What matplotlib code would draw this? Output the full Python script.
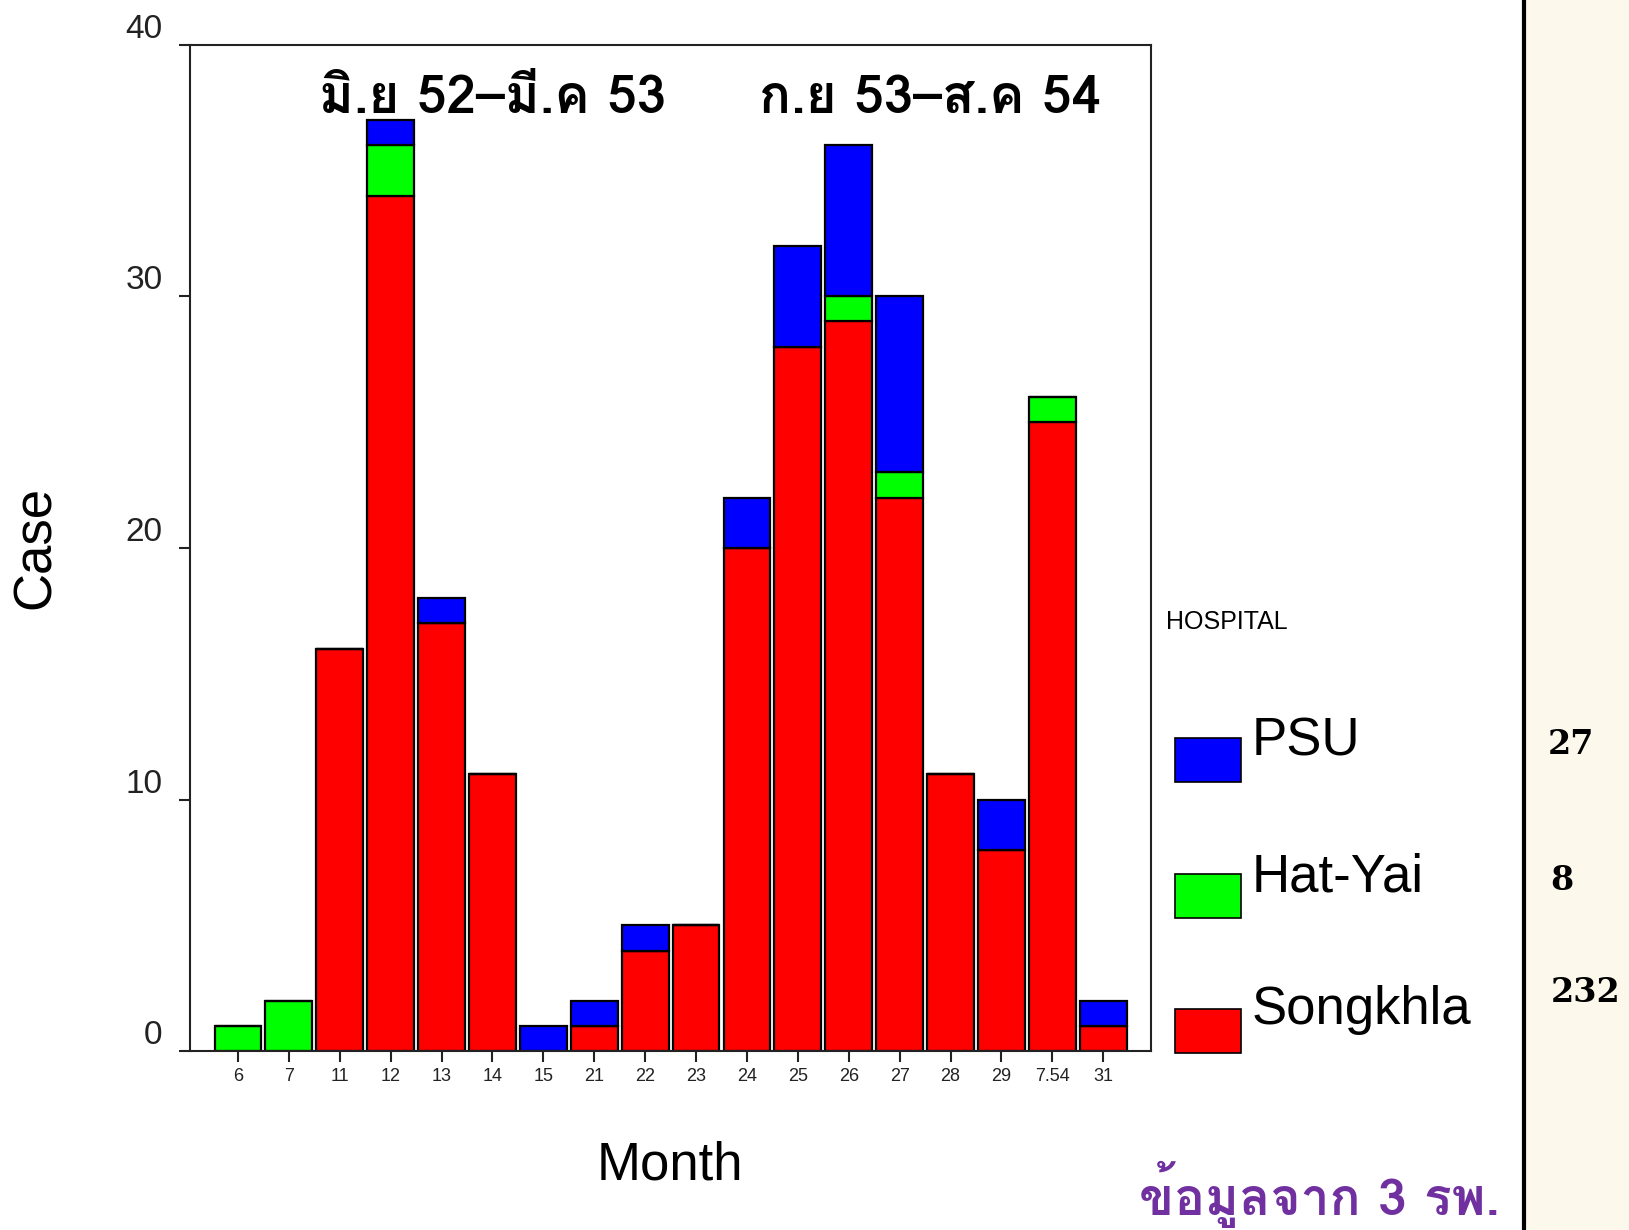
import numpy as np
import matplotlib
matplotlib.use("Agg")
import matplotlib.pyplot as plt
import matplotlib.transforms as mtransforms
from matplotlib import font_manager
from matplotlib.ft2font import FT2Font
from matplotlib.patches import Rectangle

months = ["6", "7", "11", "12", "13", "14", "15", "21", "22", "23", "24",
          "25", "26", "27", "28", "29", "7.54", "31"]
songkhla = [0, 0, 16, 34, 17, 11, 0, 1, 4, 5, 20, 28, 29, 22, 11, 8, 25, 1]
hatyai = [1, 2, 0, 2, 0, 0, 0, 0, 0, 0, 0, 0, 1, 1, 0, 0, 1, 0]
psu = [0, 0, 0, 1, 1, 0, 1, 1, 1, 0, 2, 4, 6, 7, 0, 2, 0, 1]
hospitals = ["PSU", "Hat-Yai", "Songkhla"]
totals = [27, 8, 232]
period_labels = ["มิ.ย 52–มี.ค 53", "ก.ย 53–ส.ค 54"]


def find_font(ch):
    # first installed family that has this glyph
    for f in font_manager.fontManager.ttflist:
        try:
            if ord(ch) in FT2Font(f.fname).get_charmap():
                return f.name
        except Exception:
            pass
    return "DejaVu Sans"


thai_font = find_font("ก")
sans = "Liberation Sans"

fig = plt.figure(figsize=(16.29, 12.30), dpi=100)
fig.patch.set_facecolor("white")

# right side panel
fig.patches.append(Rectangle((0.9356, 0), 0.07, 1, transform=fig.transFigure,
                             facecolor="#fcf8ec", edgecolor="none", zorder=0))
fig.add_artist(plt.Line2D([0.9356, 0.9356], [0, 1], transform=fig.transFigure,
                          color="black", lw=3))

ax = fig.add_axes([0.1167, 0.1453, 0.5899, 0.8184])
x = np.arange(len(months))
s = np.array(songkhla)
h = np.array(hatyai)
p = np.array(psu)
w = 0.92
ax.bar(x, s, w, color="#ff0000", edgecolor="black", linewidth=1.6)
ax.bar(x, h, w, bottom=s, color="#00ff00", edgecolor="black", linewidth=1.6)
ax.bar(x, p, w, bottom=s + h, color="#0000ff", edgecolor="black", linewidth=1.6)

ax.set_xlim(-0.94, len(months) - 1 + 0.94)
ax.set_ylim(0, 40)
ax.set_xticks(x)
ax.set_xticklabels(months, fontsize=13, family=sans)
ax.set_yticks([0, 10, 20, 30, 40])
ax.set_yticklabels(["0", "10", "20", "30", "40"], fontsize=24, family=sans,
                   color="#222222", va="bottom")
# the zero label sits a bit higher in the original
zero_lab = ax.get_yticklabels()[0]
zero_lab.set_transform(zero_lab.get_transform() +
                       mtransforms.ScaledTranslation(0, 14 / 72, fig.dpi_scale_trans))
ax.tick_params(axis="both", direction="out", length=8, width=1.5, colors="#222222")
ax.tick_params(axis="y", pad=12)
ax.tick_params(axis="x", pad=4)
for sp in ax.spines.values():
    sp.set_linewidth(1.5)
    sp.set_color("#222222")

fig.text(0.3023, 0.919, period_labels[0], family=thai_font, fontsize=38,
         fontweight="bold", ha="center", va="center")
fig.text(0.5711, 0.919, period_labels[1], family=thai_font, fontsize=38,
         fontweight="bold", ha="center", va="center")

fig.text(0.0223, 0.555, "Case", family=sans, fontsize=38, rotation=90,
         ha="center", va="center")
fig.text(0.4113, 0.0524, "Month", family=sans, fontsize=38,
         ha="center", va="center")

# legend
fig.text(0.7156, 0.489, "HOSPITAL", family=sans, fontsize=18, va="baseline")
colors = ["#0000ff", "#00ff00", "#ff0000"]
patch_bottoms = [0.364, 0.2534, 0.1436]
text_base = [0.386, 0.2753, 0.1672]
for name, c, pb, tb in zip(hospitals, colors, patch_bottoms, text_base):
    fig.patches.append(Rectangle((0.7213, pb), 0.0408, 0.0363,
                                 transform=fig.transFigure, facecolor=c,
                                 edgecolor="black", lw=1.2))
    fig.text(0.7685, tb, name, family=sans, fontsize=38, va="baseline")

num_y = [0.3944, 0.2838, 0.1934]
num_x = [0.9503, 0.9515, 0.9522]
for t, nx, ny in zip(totals, num_x, num_y):
    fig.text(nx, ny, str(t), family="DejaVu Serif", fontweight="bold",
             fontsize=24, va="center")

fig.text(0.81, 0.0287, "ข้อมูลจาก 3 รพ.", family=thai_font, fontsize=37,
         fontweight="bold", color="#7030a0", ha="center", va="center")

fig.savefig("out.png", dpi=100)
